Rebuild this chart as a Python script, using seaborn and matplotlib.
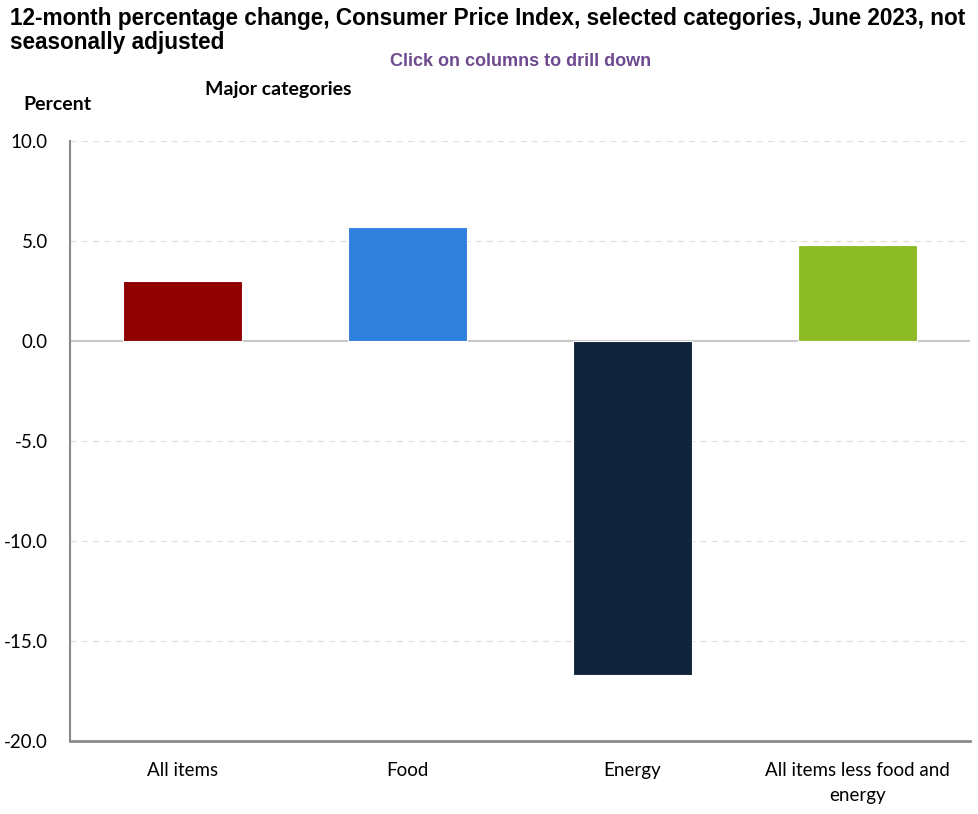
import matplotlib
matplotlib.use('Agg')
import matplotlib.pyplot as plt
import seaborn as sns
import pandas as pd

# Data (12-month % change, June 2023)
categories = ['All items', 'Food', 'Energy', 'All items less food and\nenergy']
values = [3.0, 5.7, -16.7, 4.8]
bar_colors = ['#900000', '#2F80DC', '#10253C', '#8DBB25']
y_ticks = [10.0, 5.0, 0.0, -5.0, -10.0, -15.0, -20.0]

sns.set_theme(style='white')
plt.rcParams['font.family'] = ['Lato', 'DejaVu Sans']
plt.rcParams['text.color'] = 'black'
plt.rcParams['xtick.color'] = 'black'
plt.rcParams['ytick.color'] = 'black'

df = pd.DataFrame({'category': categories, 'value': values})

fig = plt.figure(figsize=(9.79, 8.14), dpi=100)
ax = fig.add_axes([70 / 979, 73 / 814, 900 / 979, 600 / 814])

sns.barplot(data=df, x='category', y='value', hue='category',
            palette=bar_colors, saturation=1, width=0.53, legend=False, ax=ax,
            edgecolor='white', linewidth=0.8, zorder=3)

ax.set_ylim(-20, 10)
ax.set_xlim(-0.5, 3.5)
ax.set_yticks(y_ticks)
ax.set_yticklabels([f'{t:.1f}' for t in y_ticks], fontsize=13.5)
ax.tick_params(axis='x', labelsize=13.5, pad=15, length=0)
ax.tick_params(axis='y', pad=16, length=0)
for lbl in ax.get_xticklabels():
    lbl.set_linespacing(1.55)
ax.set_xlabel('')
ax.set_ylabel('')

# grid and zero line
for t in y_ticks:
    if t not in (0.0, -20.0):
        ax.axhline(t, color='#e0e0e0', linestyle=(0, (5, 4)), linewidth=0.9, zorder=1)
ax.axhline(0, color='#c8c8c8', linewidth=1.5, zorder=2)

for s in ['top', 'right']:
    ax.spines[s].set_visible(False)
ax.spines['left'].set_color('#8a8a8a')
ax.spines['left'].set_linewidth(1.5)
ax.spines['bottom'].set_color('#8a8a8a')
ax.spines['bottom'].set_linewidth(2)

fig.text(10 / 979, 1 - 7 / 814,
         '12-month percentage change, Consumer Price Index, selected categories, June 2023, not\nseasonally adjusted',
         ha='left', va='top', fontsize=16.3, fontweight='bold',
         family=['Liberation Sans', 'DejaVu Sans'], linespacing=1.05)
fig.text(521 / 979, 1 - 61 / 814, 'Click on columns to drill down',
         ha='center', va='center', fontsize=13, fontweight='bold', color='#6E4A8E',
         family=['Liberation Sans', 'DejaVu Sans'])
fig.text(205 / 979, 1 - 89 / 814, 'Major categories', ha='left', va='center',
         fontsize=14, fontweight='bold')
fig.text(23 / 979, 1 - 104 / 814, 'Percent', ha='left', va='center',
         fontsize=14, fontweight='bold')

fig.savefig('out.png', dpi=100)
